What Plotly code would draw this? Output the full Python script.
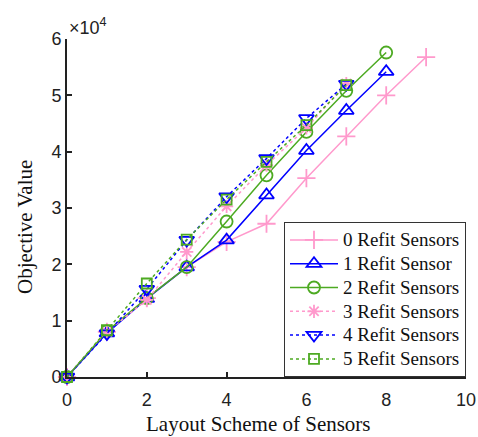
import plotly.graph_objects as go

x_vals = [0, 1, 2, 3, 4, 5, 6, 7, 8, 9]
names = ["0 Refit Sensors", "1 Refit Sensor", "2 Refit Sensors",
         "3 Refit Sensors", "4 Refit Sensors", "5 Refit Sensors"]
s0 = [0, 8000, 14000, 19500, 24000, 27200, 35300, 42700, 50000, 56800]
s1 = [0, 7800, 13900, 19500, 24300, 32300, 40200, 47300, 54200]
s2 = [0, 8100, 14000, 19500, 27600, 35800, 43500, 50800, 57600]
s3 = [0, 8000, 13700, 22200, 30300, 37600, 44200, 52100]
s4 = [0, 7700, 15600, 24300, 32000, 38800, 45900, 52000]
s5 = [0, 8300, 16600, 24400, 31500, 38200, 44700, 51800]
y_ticks = [0, 10000, 20000, 30000, 40000, 50000, 60000]
y_tick_text = ["0", "1", "2", "3", "4", "5", "6"]
x_ticks = [0, 2, 4, 6, 8, 10]

pink = "#FF99CC"
blue = "#0000FF"
green = "#4DAA22"

series = [s0, s1, s2, s3, s4, s5]
colors = [pink, blue, green, pink, blue, green]
dashes = ["solid", "solid", "solid", "dot", "dot", "dot"]
symbols = ["cross-thin-open", "triangle-up-open", "circle-open",
           "asterisk-open", "triangle-down-open", "square-open"]
sizes = [13, 13, 12, 11, 13, 10]

fig = go.Figure()
for s, n, c, d, sym, sz in zip(series, names, colors, dashes, symbols, sizes):
    fig.add_trace(go.Scatter(
        x=x_vals[:len(s)], y=s, name='<span style="font-size:19px">' + n + '</span>',
        mode="lines+markers",
        line=dict(color=c, width=1.5, dash=d),
        marker=dict(symbol=sym, size=sz, color=c, line=dict(color=c, width=1.8)),
        cliponaxis=False,
    ))

L, R, T, B = 67, 12, 39, 60
W, H = 478, 437
pw, ph = W - L - R, H - T - B

fig.update_layout(
    width=W, height=H,
    margin=dict(l=L, r=R, t=T, b=B, autoexpand=False),
    plot_bgcolor="white", paper_bgcolor="white",
    showlegend=True,
    legend=dict(
        x=1, xanchor="right", y=0, yanchor="bottom",
        bordercolor="#333333", borderwidth=1, bgcolor="white",
        font=dict(family="Liberation Serif", size=16, color="#111111"),
        tracegroupgap=0, itemwidth=48,
    ),
    xaxis=dict(
        range=[0, 10], tickvals=x_ticks, ticks="inside", ticklen=5,
        tickwidth=1.5, tickcolor="#222222", automargin=False,
        showline=True, linecolor="#222222", linewidth=2, showgrid=False, zeroline=False,
        ticklabelstandoff=5,
        tickfont=dict(family="Liberation Sans", size=18, color="#222222"),
    ),
    yaxis=dict(
        range=[0, 60000], tickvals=y_ticks, ticktext=y_tick_text,
        ticks="inside", ticklen=5, tickwidth=1.5, tickcolor="#222222", automargin=False,
        showline=True, linecolor="#222222", linewidth=2, showgrid=False, zeroline=False,
        tickfont=dict(family="Liberation Sans", size=18, color="#222222"),
    ),
    annotations=[
        dict(text="×10<sup>4</sup>", xref="paper", yref="paper", x=0, y=1,
             xanchor="left", yanchor="bottom", showarrow=False, xshift=0, yshift=-1,
             font=dict(family="Liberation Sans", size=18, color="#222222")),
        dict(text="Objective Value", xref="paper", yref="paper",
             x=(25 - L) / pw, y=(H - B - 227) / ph, textangle=-90,
             xanchor="center", yanchor="middle", showarrow=False,
             font=dict(family="Liberation Serif", size=21, color="#111111")),
        dict(text="Layout Scheme of Sensors", xref="paper", yref="paper",
             x=(258 - L) / pw, y=(H - B - 424) / ph,
             xanchor="center", yanchor="middle", showarrow=False,
             font=dict(family="Liberation Serif", size=21, color="#111111")),
    ],
)

fig.write_html("out.html", config={"displayModeBar": False},
               post_script="document.body.style.margin='0px';document.body.style.overflow='hidden';")
